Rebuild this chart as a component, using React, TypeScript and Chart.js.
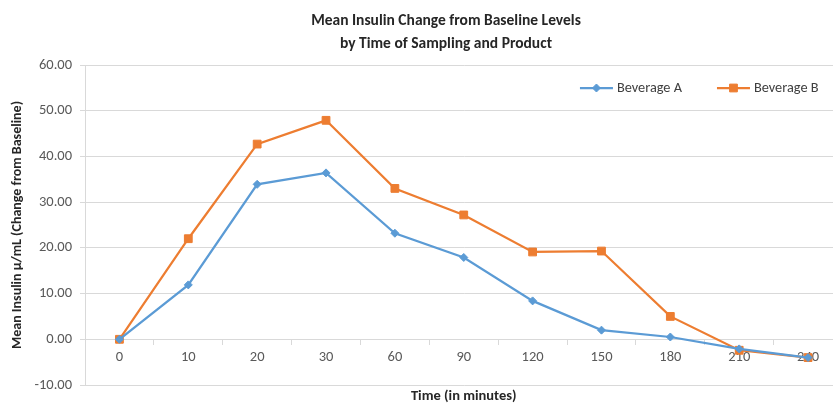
import React, { useEffect, useRef } from 'react';
import { Chart, registerables } from 'chart.js';
import { drawPoint } from 'chart.js/helpers';

Chart.register(...registerables);

const timeLabels = ['0', '10', '20', '30', '60', '90', '120', '150', '180', '210', '240'];
const beverageA = [0, 11.9, 33.9, 36.4, 23.2, 17.9, 8.4, 2.0, 0.5, -2.1, -4.0];
const beverageB = [0, 22.0, 42.7, 47.9, 33.0, 27.2, 19.1, 19.3, 5.0, -2.4, -4.0];
const seriesNames = ['Beverage A', 'Beverage B'];
const titleLines = ['Mean Insulin Change from Baseline Levels', 'by Time of Sampling and Product'];
const xTitle = 'Time (in minutes)';
const yTitle = 'Mean Insulin µ/mL (Change from Baseline)';
const yMin = -10;
const yMax = 60;
const yStep = 10;

const FONT = 'Carlito, Lato, "Noto Sans", sans-serif';
const BLUE = '#5B9BD5';
const ORANGE = '#ED7D31';
const GRID = '#d9d9d9';
const TEXT = '#595959';
const DARK = '#262626';

const titlePlugin = {
  id: 'customTitle',
  afterDraw(chart: any) {
    const ctx = chart.ctx;
    ctx.save();
    ctx.font = `bold 15.5px ${FONT}`;
    ctx.fillStyle = DARK;
    ctx.textAlign = 'center';
    ctx.textBaseline = 'middle';
    ctx.fillText(titleLines[0], 446, 21);
    ctx.fillText(titleLines[1], 446, 44);
    ctx.restore();
  },
};

const legendPlugin = {
  id: 'customLegend',
  afterDraw(chart: any) {
    const ctx = chart.ctx;
    const area = chart.chartArea;
    ctx.save();
    ctx.font = `14.3px ${FONT}`;
    const lineLen = 33;
    const gap = 4;
    const itemGap = 35;
    const items = chart.data.datasets.map((ds: any) => ({ ds, w: ctx.measureText(ds.label).width }));
    const total =
      items.reduce((s: number, it: any) => s + lineLen + gap + it.w, 0) + itemGap * (items.length - 1);
    let x = area.right - 24 - total;
    const y = area.top + 23;
    items.forEach((it: any) => {
      const ds = it.ds;
      ctx.strokeStyle = ds.borderColor;
      ctx.lineWidth = 2.25;
      ctx.beginPath();
      ctx.moveTo(x, y);
      ctx.lineTo(x + lineLen, y);
      ctx.stroke();
      ctx.fillStyle = ds.pointBackgroundColor;
      ctx.strokeStyle = ds.pointBorderColor;
      ctx.lineWidth = 1;
      drawPoint(ctx, { pointStyle: ds.pointStyle, rotation: 0, radius: ds.pointRadius, borderWidth: 1 }, x + lineLen / 2, y);
      ctx.fillStyle = '#404040';
      ctx.textAlign = 'left';
      ctx.textBaseline = 'middle';
      ctx.fillText(ds.label, x + lineLen + gap, y);
      x += lineLen + gap + it.w + itemGap;
    });
    ctx.restore();
  },
};

export default function App() {
  const canvasRef = useRef<HTMLCanvasElement | null>(null);

  useEffect(() => {
    if (!canvasRef.current) return;
    Chart.defaults.font.family = FONT;
    const chart = new Chart(canvasRef.current, {
      type: 'line',
      data: {
        labels: timeLabels,
        datasets: [
          {
            label: seriesNames[0],
            data: beverageA,
            borderColor: BLUE,
            backgroundColor: BLUE,
            pointBackgroundColor: BLUE,
            pointBorderColor: BLUE,
            pointStyle: 'rectRot',
            pointRadius: 4,
            pointBorderWidth: 1,
            borderWidth: 2.25,
            tension: 0,
          },
          {
            label: seriesNames[1],
            data: beverageB,
            borderColor: ORANGE,
            backgroundColor: ORANGE,
            pointBackgroundColor: ORANGE,
            pointBorderColor: ORANGE,
            pointStyle: 'rect',
            pointRadius: 5.5,
            pointBorderWidth: 1,
            borderWidth: 2.25,
            tension: 0,
          },
        ],
      },
      options: {
        responsive: false,
        animation: false,
        layout: { padding: { top: 65, left: 0, right: 0, bottom: 0 } },
        plugins: {
          legend: { display: false },
          title: { display: false },
          tooltip: { enabled: false },
          subtitle: {
            display: true,
            text: xTitle,
            position: 'bottom',
            fullSize: false,
            color: DARK,
            font: { size: 14.5, weight: 'bold', family: FONT, lineHeight: 1 },
            padding: { top: 4.5, bottom: 0 },
          },
        },
        scales: {
          x: {
            type: 'category',
            position: { y: 0 },
            offset: true,
            grid: { drawOnChartArea: false, drawTicks: true, tickLength: 5, offset: true, color: GRID },
            border: { display: true, color: GRID },
            ticks: { color: TEXT, font: { size: 14.5, family: FONT }, padding: 4, maxRotation: 0, autoSkip: false },
            afterFit: (s: any) => {
              s.height = 0;
            },
          },
          y: {
            min: yMin,
            max: yMax,
            ticks: {
              stepSize: yStep,
              color: TEXT,
              font: { size: 14.5, family: FONT },
              padding: 8,
              callback: (v: any) => Number(v).toFixed(2),
            },
            grid: { color: GRID, tickLength: 5, drawTicks: true },
            border: { display: true, color: GRID },
            title: {
              display: true,
              text: yTitle,
              color: DARK,
              font: { size: 14, weight: 'bold', family: FONT },
              padding: { top: 9, bottom: 0 },
            },
            afterFit: (s: any) => {
              s.width = 85;
            },
          },
        },
      } as any,
      plugins: [titlePlugin, legendPlugin],
    });
    return () => chart.destroy();
  }, []);

  return (
    <div
      style={{
        position: 'fixed',
        left: 0,
        top: 0,
        width: 833,
        height: 404,
        overflow: 'hidden',
        background: '#fff',
      }}
    >
      <canvas ref={canvasRef} width={849} height={404} style={{ display: 'block' }} />
    </div>
  );
}
